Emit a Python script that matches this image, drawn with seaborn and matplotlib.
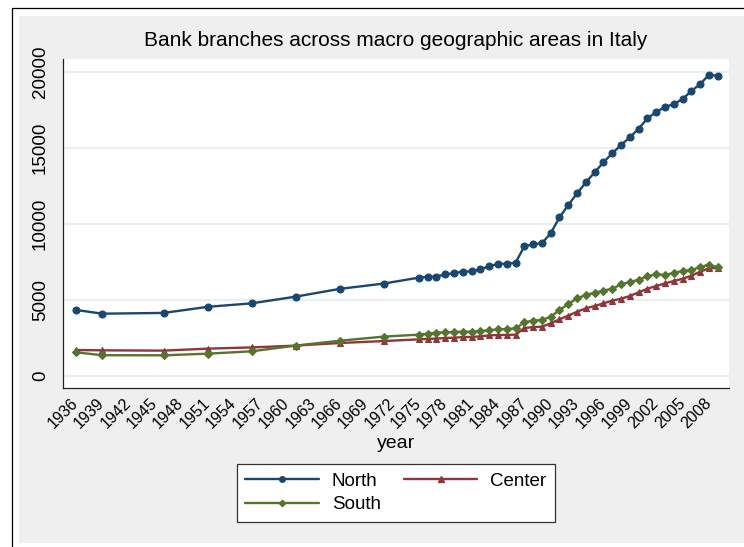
import matplotlib
matplotlib.use("Agg")
import matplotlib.pyplot as plt
from matplotlib.lines import Line2D
from matplotlib.patches import Rectangle
import pandas as pd
import seaborn as sns

# Observation years (sparse before 1975, yearly afterwards)
years = [1936, 1939, 1946, 1951, 1956, 1961, 1966, 1971,
         1975, 1976, 1977, 1978, 1979, 1980, 1981, 1982, 1983, 1984,
         1985, 1986, 1987, 1988, 1989, 1990, 1991, 1992, 1993, 1994,
         1995, 1996, 1997, 1998, 1999, 2000, 2001, 2002, 2003, 2004,
         2005, 2006, 2007, 2008, 2009]

# Number of bank branches per macro area
north = [4350, 4100, 4150, 4550, 4780, 5220, 5730, 6080,
         6470, 6530, 6540, 6690, 6760, 6870, 6880, 7020, 7220, 7370,
         7390, 7450, 8520, 8670, 8730, 9390, 10440, 11250, 12020, 12740,
         13400, 14060, 14650, 15200, 15700, 16270, 16950, 17370, 17700, 17890,
         18220, 18750, 19210, 19820, 19740]
center = [1710, 1690, 1670, 1800, 1880, 2000, 2170, 2300,
          2410, 2450, 2460, 2500, 2520, 2560, 2570, 2610, 2670, 2700,
          2700, 2720, 3150, 3220, 3245, 3465, 3730, 3970, 4230, 4450,
          4605, 4780, 4955, 5085, 5265, 5505, 5745, 5920, 6095, 6250,
          6400, 6600, 6865, 7085, 7105]
south = [1560, 1370, 1360, 1470, 1625, 2000, 2320, 2590,
         2720, 2785, 2850, 2870, 2895, 2915, 2920, 2960, 3005, 3070,
         3090, 3135, 3530, 3650, 3685, 3900, 4340, 4735, 5110, 5330,
         5480, 5615, 5745, 6030, 6185, 6335, 6555, 6690, 6645, 6795,
         6910, 6975, 7170, 7325, 7150]

areas = ["North", "Center", "South"]
x_ticks = [1936, 1939, 1942, 1945, 1948, 1951, 1954, 1957, 1960, 1963,
           1966, 1969, 1972, 1975, 1978, 1981, 1984, 1987, 1990, 1993,
           1996, 1999, 2002, 2005, 2008]
y_ticks = [0, 5000, 10000, 15000, 20000]

colors = {"North": "#1a476f", "Center": "#90353b", "South": "#55752f"}
markers = {"North": "o", "Center": "^", "South": "D"}
msizes = {"North": 5.0, "Center": 5.0, "South": 4.0}

df = pd.DataFrame({
    "year": years * 3,
    "branches": north + center + south,
    "area": [a for a in areas for _ in years],
})

sns.set_theme(style="white")
plt.rcParams["font.family"] = ["Liberation Sans", "DejaVu Sans"]
plt.rcParams["text.color"] = "black"
plt.rcParams["axes.labelcolor"] = "black"

fig = plt.figure(figsize=(7.44, 5.47), dpi=100, facecolor="white")
W, H = 744.0, 547.0

# Graph region background and outer frame
fig.patches.append(Rectangle((19 / W, 1 - 543 / H), (W - 19) / W, (543 - 16) / H,
                             transform=fig.transFigure, facecolor="#efefef",
                             edgecolor="none", zorder=-10))
fig.lines.append(Line2D([12 / W, 12 / W], [0, 1 - 8 / H], transform=fig.transFigure,
                        color="black", lw=0.9, zorder=-5))
fig.lines.append(Line2D([12 / W, 1], [1 - 8 / H, 1 - 8 / H], transform=fig.transFigure,
                        color="black", lw=0.9, zorder=-5))

ax = fig.add_axes([63 / W, 1 - 388 / H, (729 - 63) / W, (388 - 59) / H])
ax.set_zorder(1)
ax.set_facecolor("white")

for area in areas:
    sns.lineplot(data=df[df["area"] == area], x="year", y="branches",
                 color=colors[area], marker=markers[area], markersize=msizes[area],
                 markeredgecolor=colors[area], markeredgewidth=0.8,
                 linewidth=1.7, ax=ax, legend=False, zorder=3)

ax.set_xlim(1934.56, 2010.27)
ax.set_ylim(-789, 20855)
ax.set_xticks(x_ticks)
ax.set_xticklabels([str(t) for t in x_ticks], rotation=45, ha="right",
                   rotation_mode="anchor", va="center", fontsize=11.5)
ax.set_yticks(y_ticks)
ax.set_yticklabels([str(t) for t in y_ticks], rotation=90, va="center",
                   fontsize=13.5)
ax.tick_params(axis="both", direction="out", length=5, width=0.9,
               color="#333333", labelcolor="black")
ax.tick_params(axis="x", pad=4)
ax.tick_params(axis="y", pad=5)

ax.yaxis.grid(True, color="#e8eff1", lw=1.6)
ax.xaxis.grid(False)
ax.set_axisbelow(True)
for side in ["top", "right"]:
    ax.spines[side].set_visible(False)
for side in ["left", "bottom"]:
    ax.spines[side].set_color("#222222")
    ax.spines[side].set_linewidth(0.9)

ax.set_xlabel("year", fontsize=14, labelpad=3, color="black")
ax.set_ylabel("")

fig.text(396 / W, 1 - 40 / H, "Bank branches across macro geographic areas in Italy",
         ha="center", va="center", fontsize=15, color="black")

# Column-wise legend fill: North/South in the first column, Center in the second
leg_order = ["North", "South", "Center"]
handles = [Line2D([], [], color=colors[a], marker=markers[a], lw=1.7,
                  markersize=msizes[a] * 0.8, markeredgecolor=colors[a])
           for a in leg_order]
leg = fig.legend(handles, leg_order, loc="center", bbox_to_anchor=(396 / W, 1 - 493 / H),
                 ncol=2, fontsize=13.5, frameon=True, fancybox=False,
                 handlelength=3.9, handletextpad=0.7, columnspacing=1.25,
                 labelspacing=0.35, borderpad=0.45, borderaxespad=0)
leg.get_frame().set_edgecolor("#333333")
leg.get_frame().set_linewidth(0.9)
leg.get_frame().set_facecolor("white")
leg.get_frame().set_alpha(1)
for t in leg.get_texts():
    t.set_color("black")

fig.savefig("out.png", dpi=100, facecolor="white")
